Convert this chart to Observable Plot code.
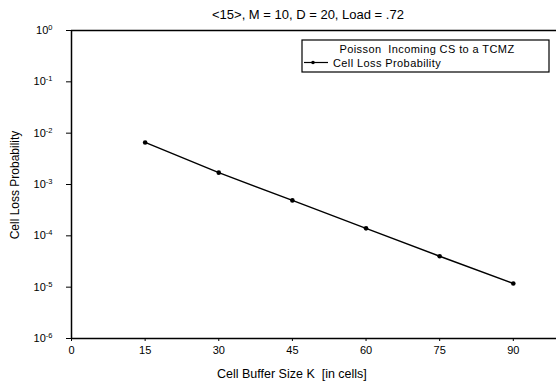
<!DOCTYPE html>
<html>
<head>
<meta charset="utf-8">
<script src="https://cdn.jsdelivr.net/npm/d3@7"></script>
<script src="https://cdn.jsdelivr.net/npm/@observablehq/plot@0.6"></script>
<style>
  html, body { margin: 0; padding: 0; background: #fff; }
  #chart { position: relative; width: 556px; height: 390px; }
  svg { font-family: "Liberation Sans", Arial, sans-serif; }
</style>
</head>
<body>
<div id="chart"></div>
<script>
const titleText = "<15>, M = 10, D = 20, Load = .72";
const legendTitle = "Poisson  Incoming CS to a TCMZ";
const seriesName = "Cell Loss Probability";
const xLabel = "Cell Buffer Size K  [in cells]";
const yLabel = "Cell Loss Probability";

const bufferSize = [15, 30, 45, 60, 75, 90];
const lossProb = [6.6e-3, 1.7e-3, 4.9e-4, 1.4e-4, 4.0e-5, 1.18e-5];

const xTicks = [0, 15, 30, 45, 60, 75, 90];
const yExponents = [0, -1, -2, -3, -4, -5, -6];

const data = bufferSize.map((k, i) => ({k, p: lossProb[i]}));
const yTicks = yExponents.map(e => Math.pow(10, e));

const plot = Plot.plot({
  width: 556,
  height: 390,
  marginTop: 30,
  marginBottom: 52,
  marginLeft: 71,
  marginRight: 0,
  style: {fontFamily: '"Liberation Sans", Arial, sans-serif', fontSize: "11px", color: "#000", background: "#fff"},
  x: {domain: [0, 98.8], ticks: xTicks, tickSize: 3, tickPadding: 5, label: null},
  y: {type: "log", domain: [1e-6, 1], ticks: yTicks, tickSize: 5, tickPadding: 14,
      tickFormat: d => "10^" + Math.round(Math.log10(d)), label: null},
  marks: [
    Plot.ruleX([0], {stroke: "#000", strokeWidth: 1.5}),
    Plot.ruleY([1, 1e-6], {stroke: "#000", strokeWidth: 1.5}),
    Plot.line(data, {x: "k", y: "p", stroke: "#000", strokeWidth: 1.4}),
    Plot.dot(data, {x: "k", y: "p", r: 2.3, fill: "#000", stroke: "none"})
  ]
});

// superscript exponents on y tick labels
d3.select(plot).selectAll("g[aria-label='y-axis tick label'] text").each(function() {
  const t = d3.select(this);
  const s = t.text();
  if (s.startsWith("10^")) {
    t.text("10");
    t.append("tspan").attr("dy", "-0.55em").attr("font-size", "7.5px").text(s.slice(3));
  }
});

const svg = d3.select(plot);
// title
svg.append("text").attr("x", 212).attr("y", 19).attr("text-anchor", "start")
  .attr("font-size", "13px").attr("fill", "#000").text(titleText);
// x label
svg.append("text").attr("x", 217).attr("y", 378).attr("text-anchor", "start")
  .attr("font-size", "12.5px").attr("fill", "#000").text(xLabel);
// y label
svg.append("text").attr("transform", "translate(19,185) rotate(-90)").attr("text-anchor", "middle")
  .attr("font-size", "12px").attr("fill", "#000").text(yLabel);
// legend
const lg = svg.append("g");
lg.append("rect").attr("x", 302).attr("y", 40).attr("width", 247).attr("height", 32)
  .attr("fill", "#fff").attr("stroke", "#000").attr("stroke-width", 1.2);
lg.append("text").attr("x", 427).attr("y", 52.5).attr("text-anchor", "middle")
  .attr("font-size", "11px").attr("letter-spacing", "0.4px").attr("fill", "#000").text(legendTitle);
lg.append("line").attr("x1", 304).attr("x2", 328).attr("y1", 62.5).attr("y2", 62.5)
  .attr("stroke", "#000").attr("stroke-width", 1.2);
lg.append("circle").attr("cx", 313).attr("cy", 62.5).attr("r", 1.8).attr("fill", "#000");
lg.append("text").attr("x", 333).attr("y", 66.5).attr("text-anchor", "start")
  .attr("font-size", "11px").attr("letter-spacing", "0.4px").attr("fill", "#000").text(seriesName);

document.getElementById("chart").appendChild(plot);
</script>
</body>
</html>
